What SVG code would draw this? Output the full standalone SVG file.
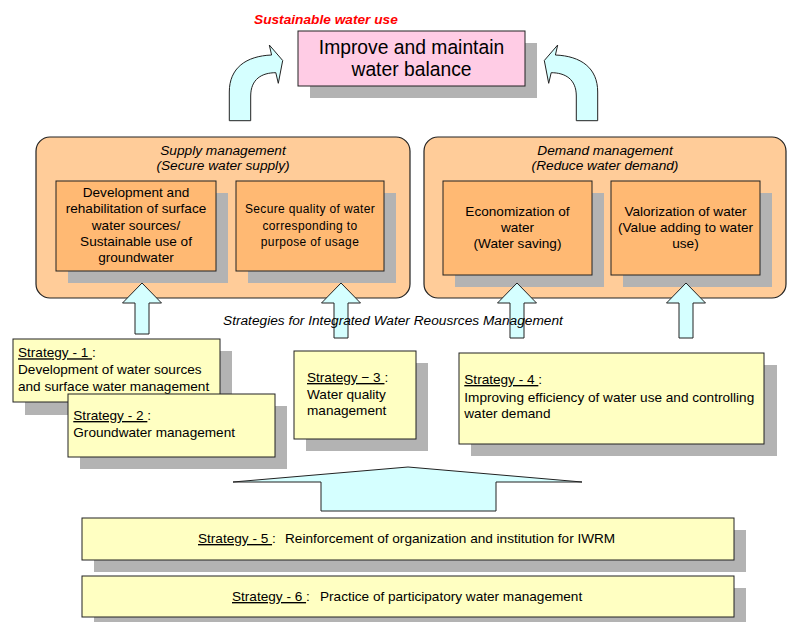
<svg xmlns="http://www.w3.org/2000/svg" width="788" height="622" viewBox="0 0 788 622">
  <style>
    text { font-family: "Liberation Sans", Arial, sans-serif; fill: #000; }
    .body { font-size: 13.6px; }
    .cap { font-size: 13.7px; font-style: italic; }
    .small { font-size: 12px; letter-spacing: 0.35px; }
    .mid { text-anchor: middle; }
    .u { text-decoration: underline; }
    .shadow { fill: #b3b3b3; }
    .group-box { fill: #ffcc99; stroke: #222; stroke-width: 1.2; }
    .measure { fill: #ffb973; stroke: #222; stroke-width: 1; }
    .strategy { fill: #ffffc2; stroke: #222; stroke-width: 1; }
    .goal { fill: #ffcce5; stroke: #222; stroke-width: 1; }
    .flow { fill: #d5ffff; stroke: #222; stroke-width: 1; stroke-linejoin: miter; }
    .title { font-size: 19.3px; }
    .tag { font-size: 13.7px; font-style: italic; font-weight: bold; fill: #ff0000; }
  </style>
  <defs>
    <path id="bend-arrow" d="M229.3,120.7 L229.3,92 C229.3,68 246,56 271.6,55 L269.3,45 L282.7,60.5 L278.3,83.3 L275.8,72.7 C262,72.7 250.7,79 250.7,96 L250.7,120.7 Z"/>
    <polygon id="up-arrow" points="0,0 19.5,20 7,20 7,55 -7,55 -7,20 -19.5,20"/>
  </defs>

  <rect width="788" height="622" fill="#ffffff"/>

  <!-- goal -->
  <g id="goal">
    <text class="tag" x="254" y="24.3">Sustainable water use</text>
    <rect class="shadow" x="310" y="43" width="227" height="55"/>
    <rect class="goal" x="298" y="31" width="227" height="55"/>
    <text class="title mid" x="411.5" y="54">Improve and maintain</text>
    <text class="title mid" x="411.5" y="75.5">water balance</text>
  </g>

  <!-- supply management -->
  <g id="supply">
    <rect class="group-box" x="36" y="137" width="374" height="161" rx="14" ry="14"/>
    <text class="cap mid" x="223" y="155">Supply management</text>
    <text class="cap mid" x="223" y="170">(Secure water supply)</text>
  </g>
  <g id="supply-sources">
    <rect class="shadow" x="68" y="193" width="160" height="90"/>
    <rect class="measure" x="56" y="181" width="160" height="90"/>
    <text class="body mid" x="136" y="196.8">Development and</text>
    <text class="body mid" x="136" y="213.2">rehabilitation of surface</text>
    <text class="body mid" x="136" y="229.6">water sources/</text>
    <text class="body mid" x="136" y="246">Sustainable use of</text>
    <text class="body mid" x="136" y="262.4">groundwater</text>
  </g>
  <g id="supply-quality">
    <rect class="shadow" x="248" y="193" width="148" height="90"/>
    <rect class="measure" x="236" y="181" width="148" height="90"/>
    <text class="small mid" x="310" y="213.3">Secure quality of water</text>
    <text class="small mid" x="310" y="229.5">corresponding to</text>
    <text class="small mid" x="310" y="245.7">purpose of usage</text>
  </g>

  <!-- demand management -->
  <g id="demand">
    <rect class="group-box" x="424" y="137" width="362" height="161" rx="14" ry="14"/>
    <text class="cap mid" x="605" y="155">Demand management</text>
    <text class="cap mid" x="605" y="170">(Reduce water demand)</text>
  </g>
  <g id="demand-saving">
    <rect class="shadow" x="455" y="193" width="149" height="94"/>
    <rect class="measure" x="443" y="181" width="149" height="94"/>
    <text class="body mid" x="517.5" y="215.5">Economization of</text>
    <text class="body mid" x="517.5" y="231.5">water</text>
    <text class="body mid" x="517.5" y="247.5">(Water saving)</text>
  </g>
  <g id="demand-value">
    <rect class="shadow" x="623" y="193" width="149" height="94"/>
    <rect class="measure" x="611" y="181" width="149" height="94"/>
    <text class="body mid" x="685.5" y="215.5">Valorization of water</text>
    <text class="body mid" x="685.5" y="231.5">(Value adding to water</text>
    <text class="body mid" x="685.5" y="247.5">use)</text>
  </g>

  <!-- connectors -->
  <g id="connectors">
    <use href="#bend-arrow" class="flow"/>
    <use href="#bend-arrow" class="flow" transform="translate(827,0) scale(-1,1)"/>
    <polygon class="flow" points="142,283 161.5,303 149,303 149,334 135,334 135,303 122.5,303"/>
    <use href="#up-arrow" class="flow" transform="translate(341,283)"/>
    <use href="#up-arrow" class="flow" transform="translate(517,283)"/>
    <use href="#up-arrow" class="flow" transform="translate(686,283)"/>
    <polygon class="flow" points="233,482 408,467 582,482 496,482 496,511 321,511 321,482"/>
  </g>

  <text class="cap" x="223" y="325">Strategies for Integrated Water Reousrces Management</text>

  <!-- strategies -->
  <g id="strategy-1">
    <rect class="shadow" x="25" y="351" width="207" height="64"/>
    <rect class="strategy" x="13" y="339" width="207" height="63"/>
    <text class="body" x="18" y="357.3"><tspan class="u">Strategy - 1 </tspan>:</text>
    <text class="body" x="18" y="374.3">Development of water sources</text>
    <text class="body" x="18" y="391.3">and surface water management</text>
  </g>
  <g id="strategy-2">
    <rect class="shadow" x="80" y="406" width="207" height="63"/>
    <rect class="strategy" x="68" y="394" width="207" height="63"/>
    <text class="body" x="73.3" y="420"><tspan class="u">Strategy - 2 </tspan>:</text>
    <text class="body" x="73.3" y="437">Groundwater management</text>
  </g>
  <g id="strategy-3">
    <rect class="shadow" x="306" y="363" width="122" height="88"/>
    <rect class="strategy" x="294" y="351" width="122" height="88"/>
    <text class="body" x="307" y="382"><tspan class="u">Strategy − 3 </tspan>:</text>
    <text class="body" x="307" y="398.5">Water quality</text>
    <text class="body" x="307" y="415">management</text>
  </g>
  <g id="strategy-4">
    <rect class="shadow" x="471" y="365" width="306" height="91"/>
    <rect class="strategy" x="459" y="353" width="305" height="91"/>
    <text class="body" x="464.3" y="384"><tspan class="u">Strategy - 4 </tspan>:</text>
    <text class="body" x="464.3" y="401.7">Improving efficiency of water use and controlling</text>
    <text class="body" x="464.3" y="418.3">water demand</text>
  </g>
  <g id="strategy-5">
    <rect class="shadow" x="94" y="530" width="652" height="42"/>
    <rect class="strategy" x="82" y="518" width="652" height="42"/>
    <text class="body" x="198" y="543"><tspan class="u">Strategy - 5 </tspan>:<tspan x="285">Reinforcement of organization and institution for IWRM</tspan></text>
  </g>
  <g id="strategy-6">
    <rect class="shadow" x="94" y="588" width="652" height="41"/>
    <rect class="strategy" x="82" y="576" width="652" height="41"/>
    <text class="body" x="232" y="601"><tspan class="u">Strategy - 6 </tspan>:<tspan x="320">Practice of participatory water management</tspan></text>
  </g>
</svg>
